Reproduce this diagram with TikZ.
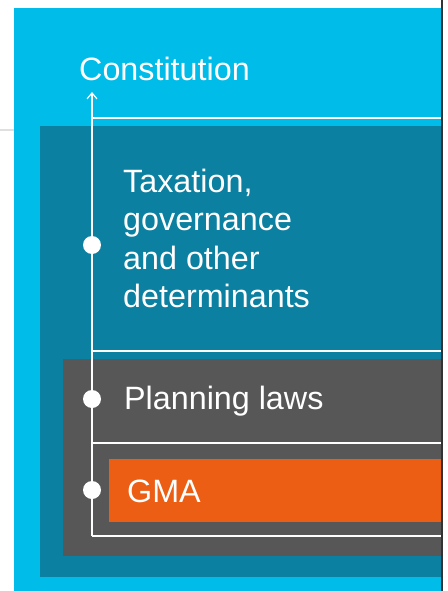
\documentclass[tikz,border=0pt]{standalone}
\usepackage{fontspec}
\setmainfont{Liberation Sans}
\usetikzlibrary{arrows.meta}

\definecolor{skyblue}{HTML}{00BCE8}
\definecolor{petrol}{HTML}{0B80A0}
\definecolor{slate}{HTML}{575757}
\definecolor{flame}{HTML}{EB5E14}

\begin{document}
\begin{tikzpicture}[x=1pt, y=-1pt,
    tier/.style={white, anchor=base west, inner sep=0pt, align=left,
        font=\fontsize{32.3}{38.3}\selectfont},
    dot/.style={circle, fill=white, inner sep=0pt, minimum size=18pt},
    rule/.style={white, line width=1.2pt}]
    \useasboundingbox (0,0) rectangle (447,591);

    % page
    \draw[gray!25, line width=1.5pt] (0,130) -- (14,130);
    \draw[black!80, line width=2pt] (442,0) -- (442,591);

    % constitution
    \fill[skyblue] (14,8) rectangle (441,591);
    \node[tier] (constitution) at (79,81) {Constitution};

    % taxation
    \fill[petrol] (40,126) rectangle (441,577);
    \draw[rule] (92,118) -- (441,118);
    \node[tier] (taxation) at (123,307.5) {Taxation,\\governance\\and other\\determinants};

    % planning laws
    \fill[slate] (63,359) rectangle (441,556);
    \draw[rule] (92,351) -- (441,351);
    \node[tier] (planning) at (124,409) {Planning laws};

    % GMA
    \draw[rule] (92,443) -- (441,443);
    \fill[flame] (109,459) rectangle (441,522);
    \node[tier] (gma) at (127,502) {GMA};
    \draw[rule] (92,536) -- (441,536);

    % spine
    \coordinate (base) at (92,536);
    \coordinate (tip) at (92,92);
    \draw[rule, -{Straight Barb[length=6pt, width=10pt]}] (base) -- (tip);

    % dots
    \node[dot] (d1) at (92,245) {};
    \node[dot] (d2) at (92,399) {};
    \node[dot] (d3) at (92,490) {};
\end{tikzpicture}
\end{document}
